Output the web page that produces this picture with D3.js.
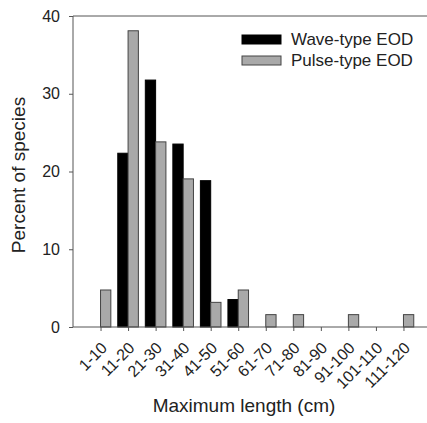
<!DOCTYPE html>
<html>
<head>
<meta charset="utf-8">
<script src="https://cdn.jsdelivr.net/npm/d3@7"></script>
<style>
  body { margin: 0; background: #fff; }
  svg { font-family: 'Liberation Sans', Arial, sans-serif; }
  .eje path, .eje line { stroke: #555; }
  .eje text { font-size: 16px; fill: #222; }
</style>
</head>
<body>
<div id="graf"></div>
<script>
// I. Datos
categorias = ['1-10', '11-20', '21-30', '31-40', '41-50', '51-60',
              '61-70', '71-80', '81-90', '91-100', '101-110', '111-120']
ondas  = [0, 22.35, 31.76, 23.53, 18.82, 3.53, 0, 0, 0, 0, 0, 0]
pulsos = [4.76, 38.1, 23.81, 19.05, 3.17, 4.76, 1.59, 1.59, 0, 1.59, 0, 1.59]
yTicks = [0, 10, 20, 30, 40]
series = ['Wave-type EOD', 'Pulse-type EOD']

// II. Configuración
ancho_total = 427
alto_total = 423
margins = { top: 16, left: 73, right: 0, bottom: 96 }
alto = alto_total - margins.top - margins.bottom

svg = d3.select('#graf').append('svg')
        .attr('width', ancho_total)
        .attr('height', alto_total)

g = svg.append('g')
       .attr('transform', `translate(${ margins.left }, ${ margins.top })`)

// posiciones: una unidad por categoría, dominio 0..13
x = d3.scaleLinear().domain([0, 13]).range([0, 358])
y = d3.scaleLinear().domain([0, 40]).range([alto, 0])
color = d3.scaleOrdinal().domain(series).range(['#000000', '#a9a9a9'])
borde = d3.scaleOrdinal().domain(series).range(['#000000', '#444444'])

anchoBarra = 0.374

datos = []
categorias.forEach((c, i) => {
  datos.push({ cat: c, pos: i + 1 - anchoBarra, valor: ondas[i], serie: series[0] })
  datos.push({ cat: c, pos: i + 1, valor: pulsos[i], serie: series[1] })
})

// marco superior y derecho
g.append('line')
 .attr('x1', x(0)).attr('x2', x(13))
 .attr('y1', y(40)).attr('y2', y(40))
 .attr('stroke', '#555')
g.append('line')
 .attr('x1', x(13)).attr('x2', x(13))
 .attr('y1', y(40)).attr('y2', y(0))
 .attr('stroke', '#555')

// III. Barras
g.selectAll('rect.barra')
 .data(datos.filter(d => d.valor > 0))
 .enter()
 .append('rect')
   .attr('class', 'barra')
   .attr('x', d => x(d.pos))
   .attr('width', d => x(anchoBarra) - x(0))
   .attr('y', d => y(d.valor))
   .attr('height', d => y(0) - y(d.valor))
   .attr('fill', d => color(d.serie))
   .attr('stroke', d => borde(d.serie))
   .attr('stroke-width', 1)

// IV. Ejes
yAxisCall = d3.axisLeft(y)
              .tickValues(yTicks)
              .tickSize(4)
              .tickPadding(9)
g.append('g').attr('class', 'eje').call(yAxisCall)
 .select('.domain').attr('d', `M0,${ y(0) }V${ y(40) }`)

xAxisCall = d3.axisBottom(x)
              .tickValues(d3.range(1, 13))
              .tickFormat(d => categorias[d - 1])
              .tickSize(4)
xAxisGroup = g.append('g')
              .attr('class', 'eje')
              .attr('transform', `translate(0, ${ alto })`)
              .call(xAxisCall)
xAxisGroup.select('.domain').attr('d', `M0,0H${ x(13) }`)
xAxisGroup.selectAll('text')
          .attr('text-anchor', 'end')
          .attr('dy', 0)
          .attr('y', 0)
          .attr('transform', 'translate(7, 22) rotate(-45)')

// títulos de ejes
svg.append('text')
   .attr('x', 244)
   .attr('y', 412)
   .attr('text-anchor', 'middle')
   .style('font-size', '19px')
   .style('fill', '#222')
   .text('Maximum length (cm)')

svg.append('text')
   .attr('transform', 'translate(25, 175) rotate(-90)')
   .attr('text-anchor', 'middle')
   .style('font-size', '19px')
   .style('fill', '#222')
   .text('Percent of species')

// V. Leyenda
leyenda = svg.append('g').attr('transform', 'translate(242, 35)')
items = leyenda.selectAll('g')
               .data(series)
               .enter()
               .append('g')
               .attr('transform', (d, i) => `translate(0, ${ i * 21 })`)
items.append('rect')
     .attr('width', 39)
     .attr('height', 9)
     .attr('fill', d => color(d))
     .attr('stroke', d => borde(d))
items.append('text')
     .attr('x', 49)
     .attr('y', 10)
     .style('font-size', '17px')
     .style('fill', '#222')
     .text(d => d)
</script>
</body>
</html>
